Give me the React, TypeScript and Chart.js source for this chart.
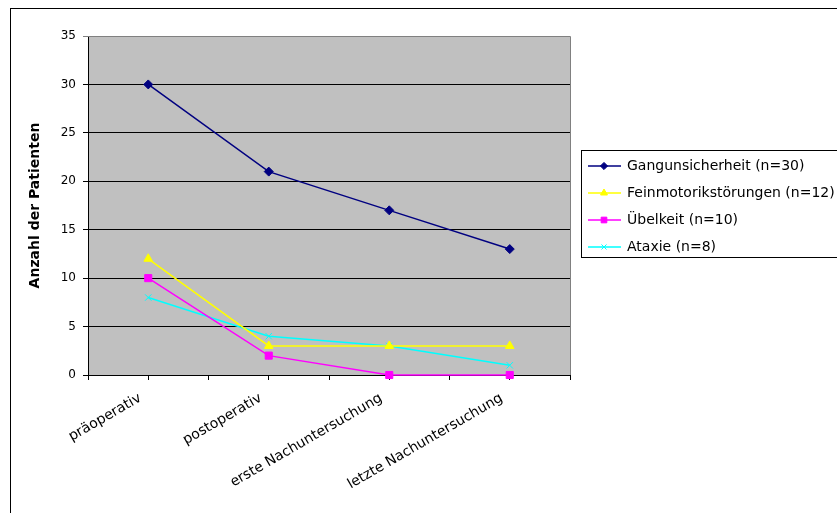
import React, { useEffect, useRef } from "react";
import { Chart, registerables } from "chart.js";
import { drawPoint } from "chart.js/helpers";

Chart.register(...registerables);

// Zeitpunkte der Erhebung
const categories = [
  "präoperativ",
  "postoperativ",
  "erste Nachuntersuchung",
  "letzte Nachuntersuchung",
];

// Anzahl der Patienten je Symptom
const gangunsicherheit = [30, 21, 17, 13];
const feinmotorik = [12, 3, 3, 3];
const uebelkeit = [10, 2, 0, 0];
const ataxie = [8, 4, 3, 1];

const seriesLabels = [
  "Gangunsicherheit (n=30)",
  "Feinmotorikstörungen (n=12)",
  "Übelkeit (n=10)",
  "Ataxie (n=8)",
];

const yMax = 35;
const yStep = 5;

const FONT = "'DejaVu Sans', 'Liberation Sans', Arial, sans-serif";

const toPoints = (values: number[]) => values.map((v, i) => ({ x: i, y: v }));

const plotFrame = {
  id: "plotFrame",
  beforeDraw(chart: any) {
    const { ctx, chartArea: a } = chart;
    ctx.save();
    ctx.fillStyle = "#ffffff";
    ctx.fillRect(0, 0, chart.width, chart.height);
    ctx.fillStyle = "#c0c0c0";
    ctx.fillRect(a.left, a.top, a.right - a.left, a.bottom - a.top);
    // outer chart frame
    ctx.strokeStyle = "#000000";
    ctx.lineWidth = 1;
    ctx.strokeRect(10.5, 8.5, 1000, 1000);
    ctx.restore();
  },
  beforeDatasetsDraw(chart: any) {
    const { ctx, chartArea: a } = chart;
    ctx.save();
    ctx.strokeStyle = "#808080";
    ctx.lineWidth = 1;
    ctx.beginPath();
    ctx.moveTo(a.left, Math.round(a.top) + 0.5);
    ctx.lineTo(Math.round(a.right) + 0.5, Math.round(a.top) + 0.5);
    ctx.lineTo(Math.round(a.right) + 0.5, a.bottom);
    ctx.stroke();
    ctx.restore();
  },
};

const boxLegend = {
  id: "boxLegend",
  afterDraw(chart: any) {
    const { ctx } = chart;
    const left = 581;
    const top = 150;
    const rowH = 27;
    ctx.save();
    ctx.strokeStyle = "#000000";
    ctx.lineWidth = 1;
    ctx.strokeRect(left + 0.5, top + 0.5, 400, 107);
    chart.data.datasets.forEach((ds: any, i: number) => {
      const y = top + 16 + i * rowH;
      ctx.strokeStyle = ds.borderColor;
      ctx.lineWidth = ds.borderWidth;
      ctx.beginPath();
      ctx.moveTo(left + 7, y);
      ctx.lineTo(left + 40, y);
      ctx.stroke();
      ctx.fillStyle = ds.pointBackgroundColor;
      ctx.strokeStyle = ds.pointBorderColor;
      ctx.lineWidth = 1;
      drawPoint(
        ctx,
        { pointStyle: ds.pointStyle, radius: ds.pointRadius * 0.8, rotation: 0, borderWidth: 1 },
        left + 23,
        y
      );
      ctx.fillStyle = "#000000";
      ctx.font = `14px ${FONT}`;
      ctx.textBaseline = "middle";
      ctx.textAlign = "left";
      ctx.fillText(ds.label, left + 46, y);
    });
    ctx.restore();
  },
};

export default function App() {
  const canvasRef = useRef<HTMLCanvasElement | null>(null);

  useEffect(() => {
    const canvas = canvasRef.current;
    if (!canvas) return;

    const series = [gangunsicherheit, feinmotorik, uebelkeit, ataxie];
    const colors = ["#000080", "#ffff00", "#ff00ff", "#00ffff"];
    const styles = ["rectRot", "triangle", "rect", "crossRot"];
    const radii = [4.5, 5, 5, 4.5];

    const chart = new Chart(canvas, {
      type: "line",
      data: {
        datasets: series.map((values, i) => ({
          label: seriesLabels[i],
          data: toPoints(values),
          borderColor: colors[i],
          backgroundColor: colors[i],
          pointBackgroundColor: colors[i],
          pointBorderColor: colors[i],
          pointStyle: styles[i],
          pointRadius: radii[i],
          pointBorderWidth: 1,
          borderWidth: 1.5,
          tension: 0,
          fill: false,
          clip: false,
        })),
      },
      options: {
        responsive: false,
        animation: false,
        devicePixelRatio: 1,
        layout: { padding: { left: 0, top: 36, right: 267, bottom: 0 } },
        plugins: {
          legend: { display: false },
          tooltip: { enabled: false },
          title: { display: false },
        },
        scales: {
          x: {
            type: "linear",
            min: -0.5,
            max: 3.5,
            afterBuildTicks: (scale: any) => {
              const ticks = [];
              for (let k = 0; k <= categories.length * 2; k++) {
                ticks.push({ value: -0.5 + k * 0.5 });
              }
              scale.ticks = ticks;
            },
            afterFit: (scale: any) => {
              scale.height = 138;
            },
            ticks: {
              autoSkip: false,
              maxRotation: 30,
              minRotation: 30,
              padding: 10,
              labelOffset: -8,
              color: "#000000",
              font: { family: FONT, size: 14 },
              callback: (value: any) =>
                Number.isInteger(value) ? categories[value] : "",
            },
            grid: {
              drawOnChartArea: false,
              drawTicks: true,
              tickLength: 5,
              color: "#000000",
            },
            border: { display: true, color: "#000000", width: 1 },
          },
          y: {
            min: 0,
            max: yMax,
            afterFit: (scale: any) => {
              scale.width = 88;
            },
            ticks: {
              stepSize: yStep,
              padding: 7,
              color: "#000000",
              font: { family: FONT, size: 12 },
            },
            grid: {
              color: (c: any) => (c.tick && c.tick.value === yMax ? "#808080" : "#000000"),
              tickLength: 5,
              lineWidth: 1,
            },
            border: { display: true, color: "#000000", width: 1 },
            title: {
              display: true,
              text: "Anzahl der Patienten",
              color: "#000000",
              font: { family: FONT, size: 14, weight: "bold" },
              padding: { top: 27, bottom: 0 },
            },
          },
        },
      },
      plugins: [plotFrame, boxLegend],
    });

    return () => chart.destroy();
  }, []);

  return (
    <div style={{ position: "absolute", left: 0, top: 0, width: 837, height: 513 }}>
      <canvas ref={canvasRef} width={837} height={513} style={{ display: "block" }} />
    </div>
  );
}
